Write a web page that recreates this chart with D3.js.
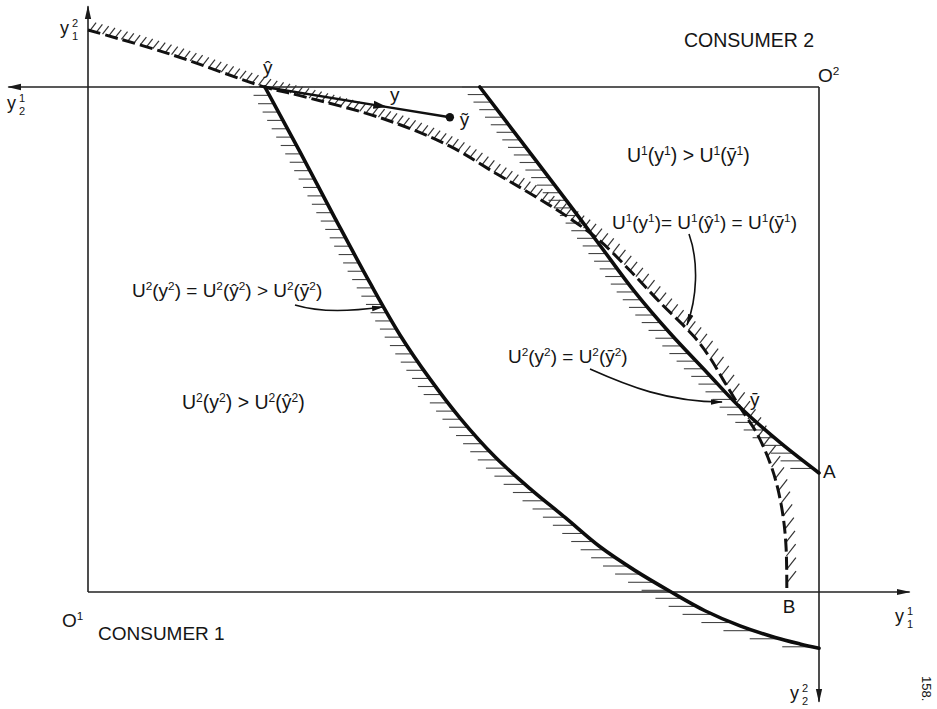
<!DOCTYPE html>
<html>
<head>
<meta charset="utf-8">
<script src="https://cdn.jsdelivr.net/npm/d3@7"></script>
<style>
  html, body { margin: 0; padding: 0; background: #fff; }
  svg { display: block; }
  text { font-family: "Liberation Sans", "DejaVu Sans", Arial, sans-serif; fill: #151515; }
</style>
</head>
<body>
<svg id="chart" width="937" height="709"></svg>
<script>
// Edgeworth box: consumer 1 measured from O1 (lower left), consumer 2 from O2 (upper right).
const boxWidth = 10;   // total endowment of good 1
const boxHeight = 7;   // total endowment of good 2

// Consumer 1 indifference curve U1(y1) = U1(ŷ1) = U1(ȳ1)  (dashed, from the y-axis down to B)
const u1CurveX = [0.00, 1.08, 2.42, 2.90, 4.04, 4.95, 5.60, 6.09, 6.59, 7.00, 7.41, 7.82, 8.30, 8.50, 8.69, 8.92, 9.15, 9.33, 9.43, 9.51, 9.55, 9.56];
const u1CurveY = [7.79, 7.47, 7.00, 6.88, 6.56, 6.18, 5.79, 5.50, 5.18, 4.87, 4.46, 4.02, 3.53, 3.26, 2.94, 2.56, 2.20, 1.79, 1.46, 1.04, 0.61, 0.00];

// Consumer 2 indifference curve through ŷ
const u2HatX = [2.42, 2.90, 3.38, 3.86, 4.27, 4.68, 5.09, 5.57, 6.05, 6.53, 7.00, 7.48, 7.96, 8.44, 8.92, 9.40, 9.74, 10.00];
const u2HatY = [7.00, 6.10, 5.18, 4.28, 3.56, 2.95, 2.41, 1.87, 1.43, 1.03, 0.63, 0.30, 0.01, -0.26, -0.47, -0.63, -0.72, -0.78];

// Consumer 2 indifference curve through ȳ, ending at A
const u2BarX = [5.36, 5.91, 6.46, 7.00, 7.48, 7.96, 8.47, 8.92, 9.47, 10.00];
const u2BarY = [7.00, 6.27, 5.54, 4.81, 4.16, 3.59, 3.04, 2.56, 2.07, 1.65];

// Named allocations
const yHat   = [2.42, 7.00];
const yBar   = [8.92, 2.56];
const yTilde = [4.95, 6.58];
const pointA = [10.00, 1.65];
const pointB = [9.56, 0.00];

// Axis extents beyond the box (good units)
const axisRight = 11.24, axisTop = 8.12, axisLeft = -1.09, axisBottom = -1.52;

const svg = d3.select("#chart");
const x = d3.scaleLinear().domain([0, boxWidth]).range([88, 819]);
const y = d3.scaleLinear().domain([0, boxHeight]).range([592, 87]);

// ---------- markers ----------
const defs = svg.append("defs");
defs.append("marker")
  .attr("id", "axisHead").attr("markerUnits", "userSpaceOnUse")
  .attr("viewBox", "0 -4 14 8").attr("refX", 13).attr("refY", 0)
  .attr("markerWidth", 14).attr("markerHeight", 8).attr("orient", "auto")
  .append("path").attr("d", "M0,-3.2L14,0L0,3.2Z").attr("fill", "#1a1a1a");
defs.append("marker")
  .attr("id", "noteHead").attr("markerUnits", "userSpaceOnUse")
  .attr("viewBox", "0 -4 12 8").attr("refX", 11).attr("refY", 0)
  .attr("markerWidth", 12).attr("markerHeight", 8).attr("orient", "auto")
  .append("path").attr("d", "M0,-2.8L12,0L0,2.8Z").attr("fill", "#111");
defs.append("marker")
  .attr("id", "midHead").attr("markerUnits", "userSpaceOnUse")
  .attr("viewBox", "0 -5 14 10").attr("refX", 8).attr("refY", 0)
  .attr("markerWidth", 14).attr("markerHeight", 10).attr("orient", "auto")
  .append("path").attr("d", "M0,-4L14,0L0,4Z").attr("fill", "#111");

// ---------- box and axes ----------
const axes = svg.append("g").attr("stroke", "#222").attr("stroke-width", 1.6).attr("fill", "none");
const seg = (a, b, head) => {
  const p = axes.append("line")
    .attr("x1", x(a[0])).attr("y1", y(a[1]))
    .attr("x2", x(b[0])).attr("y2", y(b[1]));
  if (head) p.attr("marker-end", "url(#axisHead)");
};
seg([0, 0], [axisRight, 0], true);            // y1^1 axis
seg([0, 0], [0, axisTop], true);              // y1^2 axis
seg([boxWidth, boxHeight], [axisLeft, boxHeight], true);     // y2^1 axis
seg([boxWidth, boxHeight], [boxWidth, axisBottom], true);    // y2^2 axis

// ---------- curves ----------
const line = d3.line().x(d => x(d[0])).y(d => y(d[1])).curve(d3.curveCatmullRom.alpha(0.5));
const zip = (xs, ys) => xs.map((v, i) => [v, ys[i]]);

const hatchLayer = svg.append("g");
const curveLayer = svg.append("g");

const u1Path = curveLayer.append("path")
  .attr("d", line(zip(u1CurveX, u1CurveY)))
  .attr("fill", "none").attr("stroke", "#111").attr("stroke-width", 3)
  .attr("stroke-dasharray", "13,5");

const u2HatPath = curveLayer.append("path")
  .attr("d", line(zip(u2HatX, u2HatY)))
  .attr("fill", "none").attr("stroke", "#0d0d0d").attr("stroke-width", 3.6)
  .attr("stroke-linecap", "round");

const u2BarPath = curveLayer.append("path")
  .attr("d", line(zip(u2BarX, u2BarY)))
  .attr("fill", "none").attr("stroke", "#0d0d0d").attr("stroke-width", 3.6)
  .attr("stroke-linecap", "round");

// horizontal hatching on the lower-left (preferred) side of consumer 2's curves
function hatchLeft(node, spacing) {
  const L = node.getTotalLength();
  let lastY = -Infinity;
  for (let s = 0; s <= L; s += 0.5) {
    const p = node.getPointAtLength(s);
    if (p.y - lastY < spacing) continue;
    const a = node.getPointAtLength(Math.max(0, s - 3));
    const b = node.getPointAtLength(Math.min(L, s + 3));
    const slope = Math.abs((b.y - a.y) / ((b.x - a.x) || 1e-6));
    const len = Math.max(14, Math.min(30, 11 + 9 / slope));
    hatchLayer.append("line")
      .attr("x1", p.x - len).attr("y1", p.y)
      .attr("x2", p.x - 1).attr("y2", p.y)
      .attr("stroke", "#444").attr("stroke-width", 1.1);
    lastY = p.y;
  }
}
hatchLeft(u2HatPath.node(), 8);
hatchLeft(u2BarPath.node(), 7.5);

// diagonal hatching on the upper-right (preferred) side of consumer 1's curve
(function hatchDiagonal(node) {
  const L = node.getTotalLength();
  const ang = 52 * Math.PI / 180;
  let s = 2;
  while (s <= L) {
    const p = node.getPointAtLength(s);
    const a = node.getPointAtLength(Math.max(0, s - 3));
    const b = node.getPointAtLength(Math.min(L, s + 3));
    const dl = Math.hypot(b.x - a.x, b.y - a.y) || 1;
    const sinT = Math.abs(b.y - a.y) / dl;
    const len = 10 + 5 * Math.pow(sinT, 4);
    hatchLayer.append("line")
      .attr("x1", p.x).attr("y1", p.y)
      .attr("x2", p.x + len * Math.cos(ang)).attr("y2", p.y - len * Math.sin(ang))
      .attr("stroke", "#333").attr("stroke-width", 1.2);
    s += 6.5 + 7 * Math.pow(sinT, 4);
  }
})(u1Path.node());

// ---------- the trade vector from ŷ towards ỹ ----------
const tx = d3.interpolate(yHat, yTilde);
const tradePts = [yHat, tx(0.63), yTilde];
svg.append("path")
  .attr("d", d3.line().x(d => x(d[0])).y(d => y(d[1]))(tradePts))
  .attr("fill", "none").attr("stroke", "#111").attr("stroke-width", 2.4)
  .attr("marker-mid", "url(#midHead)");
svg.append("circle")
  .attr("cx", x(yTilde[0])).attr("cy", y(yTilde[1])).attr("r", 4.2).attr("fill", "#111");

// ---------- annotation arrows ----------
const notes = svg.append("g").attr("fill", "none").attr("stroke", "#111").attr("stroke-width", 1.6);
notes.append("path").attr("d", "M689,234 C699,262 697,298 687,325").attr("marker-end", "url(#noteHead)");
notes.append("path").attr("d", "M295,305 C322,313 352,311 383,307").attr("marker-end", "url(#noteHead)");
notes.append("path").attr("d", "M590,369 C628,386 668,402 722,402").attr("marker-end", "url(#noteHead)");

// ---------- text ----------
// '^c' = superscript character, plain otherwise
function rich(xp, yp, str, size) {
  const t = svg.append("text").attr("x", xp).attr("y", yp).attr("font-size", size);
  const sup = size * 0.62, shift = size * 0.38;
  let i = 0, raised = false;
  while (i < str.length) {
    if (str[i] === "^") {
      t.append("tspan").attr("font-size", sup).attr("dy", -shift).text(str[i + 1]);
      raised = true; i += 2;
    } else {
      let j = i; while (j < str.length && str[j] !== "^") j++;
      const sp = t.append("tspan").text(str.slice(i, j));
      if (raised) { sp.attr("dy", shift); raised = false; }
      i = j;
    }
  }
  return t;
}
// axis name: y with a superscript and a subscript stacked above each other
function stacked(xp, yp, base, sup, sub) {
  const t = svg.append("text").attr("x", xp).attr("y", yp).attr("font-size", 18);
  t.append("tspan").text(base);
  t.append("tspan").attr("x", xp + 12).attr("dy", -7.5).attr("font-size", 11).text(sup);
  t.append("tspan").attr("x", xp + 12).attr("dy", 13).attr("font-size", 11).text(sub);
}

svg.append("text").attr("x", 684).attr("y", 47).attr("font-size", 19.5).text("CONSUMER 2");
svg.append("text").attr("x", 98).attr("y", 640).attr("font-size", 19).text("CONSUMER 1");
rich(818, 82, "O^2", 19);
rich(62, 627, "O^1", 19);

rich(627, 162, "U^1(y^1) > U^1(ȳ^1)", 19.5);
rich(612, 229, "U^1(y^1)= U^1(ŷ^1) = U^1(ȳ^1)", 19);
rich(132, 297, "U^2(y^2) = U^2(ŷ^2) > U^2(ȳ^2)", 19);
rich(182, 409, "U^2(y^2) > U^2(ŷ^2)", 19.5);
rich(508, 363, "U^2(y^2) = U^2(ȳ^2)", 19);

svg.append("text").attr("x", x(yHat[0]) - 2).attr("y", y(yHat[1]) - 13).attr("font-size", 19).text("ŷ");
svg.append("text").attr("x", 390).attr("y", 101).attr("font-size", 19).text("y");
svg.append("text").attr("x", x(yTilde[0]) + 10).attr("y", y(yTilde[1]) + 9).attr("font-size", 19).text("ỹ");
svg.append("text").attr("x", x(yBar[0]) + 10).attr("y", y(yBar[1]) - 1).attr("font-size", 19).text("ȳ");
svg.append("text").attr("x", x(pointA[0]) + 4).attr("y", y(pointA[1]) + 5).attr("font-size", 19).text("A");
svg.append("text").attr("x", x(pointB[0]) - 4).attr("y", y(pointB[1]) + 21).attr("font-size", 19).text("B");

stacked(60, 34, "y", "2", "1");
stacked(7, 109, "y", "1", "2");
stacked(895, 622, "y", "1", "1");
stacked(790, 699, "y", "2", "2");

svg.append("text").attr("transform", "translate(922,676) rotate(90)")
  .attr("font-size", 13).text("158.");
</script>
</body>
</html>
